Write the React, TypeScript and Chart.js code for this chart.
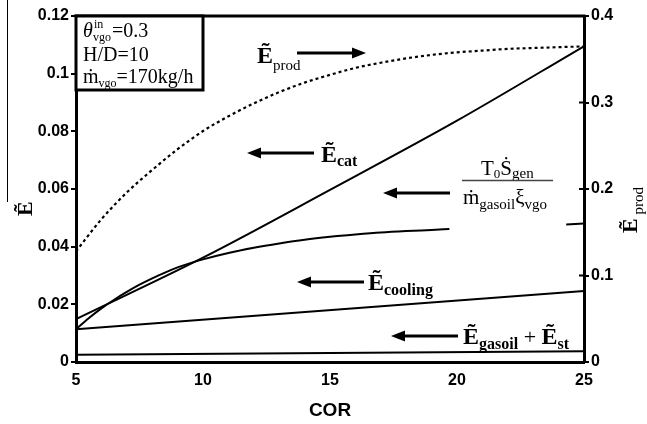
import React, { useEffect, useRef } from "react";
import { Chart, registerables } from "chart.js";

Chart.register(...registerables);

// ---- data ----
const catCor = [5, 10, 15, 20, 25];
const catValues = [0.0149, 0.0362, 0.0597, 0.0837, 0.1095];

const sGenCor = [5, 5.5, 6, 6.5, 7, 7.5, 8, 8.5, 9, 9.5, 10, 11, 12, 13, 14, 15, 16, 17, 18, 19, 19.7, 22, 24.3, 25];
const sGenValues: (number | null)[] = [
  0.0114, 0.0152, 0.0186, 0.0216, 0.0243, 0.0268, 0.029, 0.031, 0.0328, 0.0343, 0.0356,
  0.0378, 0.0396, 0.0411, 0.0424, 0.0434, 0.0442, 0.0449, 0.0454, 0.0458, 0.0461, null, 0.0477, 0.048,
];

const coolingCor = [5, 25];
const coolingValues = [0.0114, 0.0246];

const gasoilCor = [5, 25];
const gasoilValues = [0.0025, 0.0037];

const prodCor = [5, 6, 7, 8, 9, 10, 11, 12, 13, 14, 15, 16, 17, 18, 19, 20, 21, 22, 23, 24, 25];
const prodValues = [
  0.128, 0.165, 0.196, 0.222, 0.246, 0.267, 0.284, 0.299, 0.312, 0.323, 0.332, 0.34, 0.346,
  0.351, 0.355, 0.358, 0.36, 0.362, 0.363, 0.364, 0.365,
];

const xTicks = [5, 10, 15, 20, 25];
const leftTicks = [0, 0.02, 0.04, 0.06, 0.08, 0.1, 0.12];
const rightTicks = [0, 0.1, 0.2, 0.3, 0.4];

const SERIF = '"Liberation Serif", "DejaVu Serif", serif';
const SANS = '"Liberation Sans", Arial, sans-serif';

const pts = (xs: number[], ys: (number | null)[]) => xs.map((x, i) => ({ x, y: ys[i] }));

type Seg = [string, string, number];
function rich(ctx: CanvasRenderingContext2D, x: number, y: number, segs: Seg[]) {
  let cx = x;
  for (const [t, f, dy] of segs) {
    ctx.font = f;
    ctx.fillText(t, cx, y + dy);
    cx += ctx.measureText(t).width;
  }
  return cx;
}

function arrow(ctx: CanvasRenderingContext2D, x1: number, x2: number, y: number) {
  const dir = x2 > x1 ? 1 : -1;
  const head = 14;
  ctx.beginPath();
  ctx.lineWidth = 3;
  ctx.moveTo(x1, y);
  ctx.lineTo(x2 - dir * head * 0.8, y);
  ctx.stroke();
  ctx.beginPath();
  ctx.moveTo(x2, y);
  ctx.lineTo(x2 - dir * head, y - 5.5);
  ctx.lineTo(x2 - dir * head, y + 5.5);
  ctx.closePath();
  ctx.fill();
}

const annotations = {
  id: "annotations",
  afterDraw(chart: any) {
    const ctx: CanvasRenderingContext2D = chart.ctx;
    const { left, right, top } = chart.chartArea;
    ctx.save();
    ctx.fillStyle = "#000";
    ctx.strokeStyle = "#000";
    ctx.textBaseline = "alphabetic";
    ctx.textAlign = "left";

    // top frame line
    ctx.lineWidth = 3;
    ctx.beginPath();
    ctx.moveTo(left - 1.5, top);
    ctx.lineTo(right + 1.5, top);
    ctx.stroke();

    // inner ticks on right axis
    const y1 = chart.scales.y1;
    ctx.lineWidth = 2;
    for (const v of rightTicks) {
      const py = y1.getPixelForValue(v);
      ctx.beginPath();
      ctx.moveTo(right - 5, py);
      ctx.lineTo(right, py);
      ctx.stroke();
    }

    // thin edge line at the far left
    ctx.lineWidth = 1;
    ctx.beginPath();
    ctx.moveTo(7.5, 0);
    ctx.lineTo(7.5, 202);
    ctx.stroke();

    // parameter box
    ctx.fillStyle = "#fff";
    ctx.fillRect(left, top, 127, 74);
    ctx.lineWidth = 3;
    ctx.strokeRect(left, top, 127, 74);
    ctx.fillStyle = "#000";
    const f20 = `20px ${SERIF}`;
    const f12 = `12px ${SERIF}`;
    ctx.font = `italic 20px ${SERIF}`;
    ctx.fillText("θ", 83, 37);
    ctx.font = f12;
    ctx.fillText("in", 94, 28);
    ctx.fillText("vgo", 93, 41);
    ctx.font = f20;
    ctx.fillText("=0.3", 112, 37);
    ctx.fillText("H/D=10", 83, 61);
    rich(ctx, 83, 83, [["ṁ", f20, 0], ["vgo", f12, 4], ["=170kg/h", f20, 0]]);

    const bE = `bold 24px ${SERIF}`;
    // E prod
    rich(ctx, 257, 63, [["Ẽ", bE, 0], ["prod", `15px ${SERIF}`, 7]]);
    arrow(ctx, 297, 366, 53);

    // E cat
    arrow(ctx, 314, 247, 153);
    rich(ctx, 321, 162, [["Ẽ", bE, 0], ["cat", `bold 16px ${SERIF}`, 4]]);

    // fraction
    const f21 = `21px ${SERIF}`;
    const s15 = `15px ${SERIF}`;
    rich(ctx, 481, 175, [["T", f21, 0], ["0", `13px ${SERIF}`, 3], ["Ṡ", f21, 0], ["gen", s15, 3]]);
    ctx.lineWidth = 1.5;
    ctx.strokeStyle = "#444";
    ctx.beginPath();
    ctx.moveTo(462, 180.5);
    ctx.lineTo(553, 180.5);
    ctx.stroke();
    ctx.strokeStyle = "#000";
    rich(ctx, 463, 204, [["ṁ", f21, 0], ["gasoil", s15, 5], ["ξ", f21, 0], ["vgo", s15, 5]]);
    arrow(ctx, 450, 383, 193);

    // E cooling
    arrow(ctx, 364, 297, 282);
    rich(ctx, 368, 290, [["Ẽ", bE, 0], ["cooling", `bold 16px ${SERIF}`, 5]]);

    // E gasoil + E st
    arrow(ctx, 458, 391, 336);
    rich(ctx, 463, 344, [
      ["Ẽ", bE, 0],
      ["gasoil", `bold 16px ${SERIF}`, 5],
      [" + ", `22px ${SERIF}`, 0],
      ["Ẽ", bE, 0],
      ["st", `bold 16px ${SERIF}`, 5],
    ]);

    // x axis title
    ctx.font = `bold 19px ${SANS}`;
    ctx.textAlign = "center";
    ctx.fillText("COR", (left + right) / 2, 416);
    ctx.textAlign = "left";

    // left axis title
    ctx.save();
    ctx.translate(32, 216);
    ctx.rotate(-Math.PI / 2);
    ctx.font = `bold 22px ${SERIF}`;
    ctx.fillText("Ẽ", 0, 0);
    ctx.restore();

    // right axis title
    ctx.save();
    ctx.translate(637, 233);
    ctx.rotate(-Math.PI / 2);
    rich(ctx, 0, 0, [["Ẽ", `bold 22px ${SERIF}`, 0], [" prod", `15px ${SERIF}`, 6]]);
    ctx.restore();

    ctx.restore();
  },
};

export default function App() {
  const ref = useRef<HTMLCanvasElement | null>(null);

  useEffect(() => {
    document.body.style.margin = "0";
    const canvas = ref.current;
    if (!canvas) return;
    const line = { borderColor: "#000", borderWidth: 2, pointRadius: 0, fill: false };
    const chart = new Chart(canvas, {
      type: "line",
      data: {
        datasets: [
          { ...line, label: "E_cat", data: pts(catCor, catValues), yAxisID: "y", cubicInterpolationMode: "monotone" },
          { ...line, label: "T0 Sgen", data: pts(sGenCor, sGenValues), yAxisID: "y", cubicInterpolationMode: "monotone", spanGaps: false },
          { ...line, label: "E_cooling", data: pts(coolingCor, coolingValues), yAxisID: "y" },
          { ...line, label: "E_gasoil+E_st", data: pts(gasoilCor, gasoilValues), yAxisID: "y" },
          { ...line, label: "E_prod", data: pts(prodCor, prodValues), yAxisID: "y1", borderDash: [3, 3], borderWidth: 2.2, cubicInterpolationMode: "monotone" },
        ] as any,
      },
      options: {
        responsive: false,
        animation: false,
        layout: { padding: { top: 16, left: 0, right: 0, bottom: 0 } },
        plugins: { legend: { display: false }, tooltip: { enabled: false } },
        scales: {
          x: {
            type: "linear",
            min: 5,
            max: 25,
            afterBuildTicks: (s: any) => { s.ticks = xTicks.map((v) => ({ value: v })); },
            afterFit: (s: any) => { s.height = 62; },
            grid: { display: false, drawTicks: false },
            border: { display: true, color: "#000", width: 3 },
            ticks: { color: "#000", padding: 9, font: { family: SANS, size: 16, weight: "bold" } },
          },
          y: {
            type: "linear",
            position: "left",
            min: 0,
            max: 0.12,
            afterBuildTicks: (s: any) => { s.ticks = leftTicks.map((v) => ({ value: v })); },
            afterFit: (s: any) => { s.width = 76; },
            grid: { display: true, drawOnChartArea: false, drawTicks: true, tickLength: 5, color: "#000", lineWidth: 2 },
            border: { display: true, color: "#000", width: 3 },
            ticks: {
              color: "#000",
              padding: 2,
              font: { family: SANS, size: 16, weight: "bold" },
              callback: (v: any) => String(Number(Number(v).toFixed(2))),
            },
          },
          y1: {
            type: "linear",
            position: "right",
            min: 0,
            max: 0.4,
            afterBuildTicks: (s: any) => { s.ticks = rightTicks.map((v) => ({ value: v })); },
            afterFit: (s: any) => { s.width = 63; },
            grid: { display: true, drawOnChartArea: false, drawTicks: true, tickLength: 5, color: "#000", lineWidth: 2 },
            border: { display: true, color: "#000", width: 3 },
            ticks: {
              color: "#000",
              padding: 2,
              font: { family: SANS, size: 16, weight: "bold" },
              callback: (v: any) => String(Number(Number(v).toFixed(1))),
            },
          },
        },
      } as any,
      plugins: [annotations],
    });
    return () => chart.destroy();
  }, []);

  return <canvas ref={ref} width={647} height={424} style={{ display: "block" }} />;
}
